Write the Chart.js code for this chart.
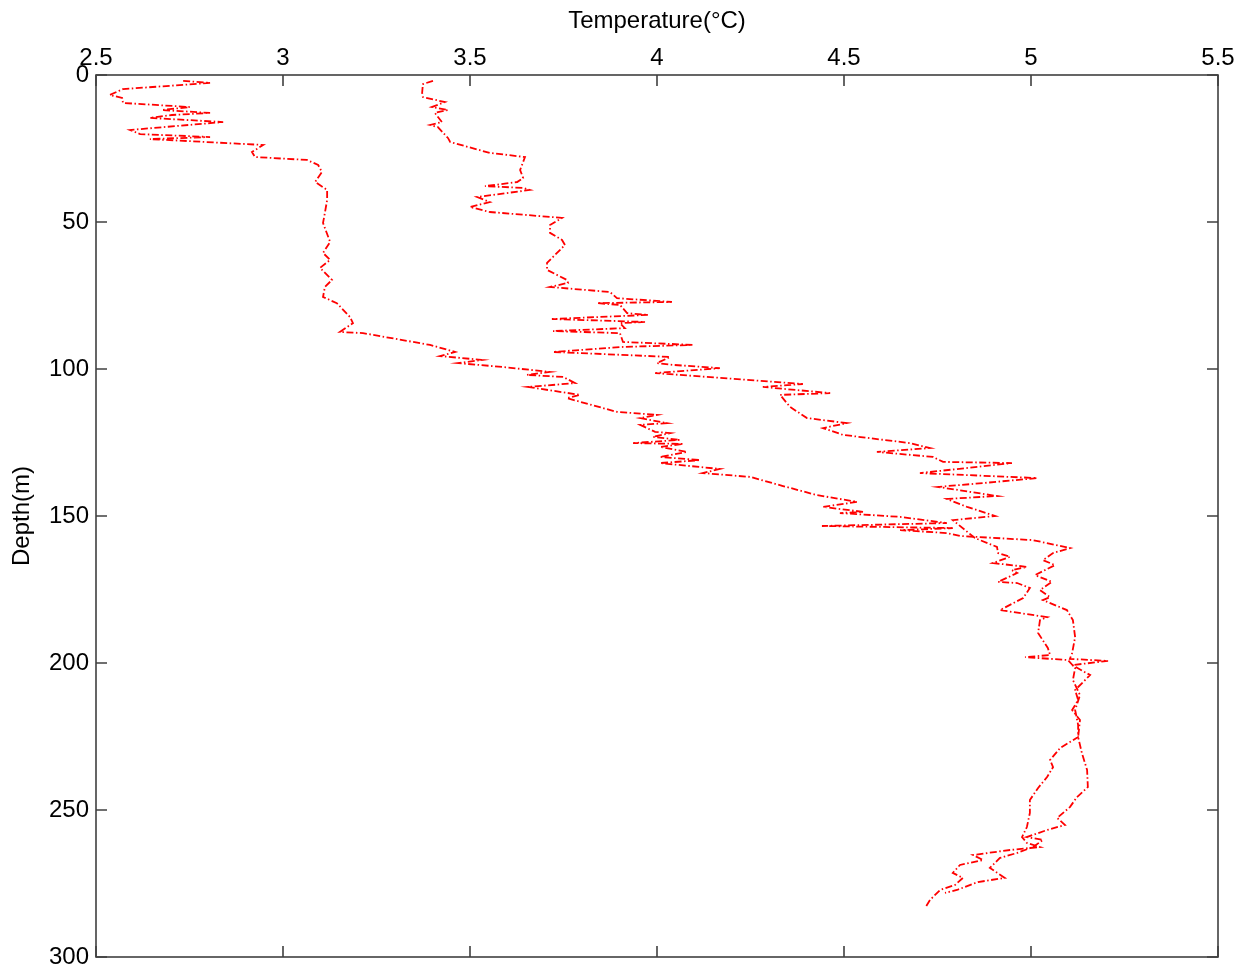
<!DOCTYPE html>
<html>
<head>
<meta charset="utf-8">
<script src="https://cdn.jsdelivr.net/npm/chart.js@4.4.1/dist/chart.umd.min.js"></script>
<style>
  html, body { margin: 0; padding: 0; background: #fff; }
  #wrap { width: 1244px; height: 972px; position: relative; }
</style>
</head>
<body>
<div id="wrap"><canvas id="profile"></canvas></div>
<script>
// tick values for both axes
const tempTicks = [2.5, 3, 3.5, 4, 4.5, 5, 5.5];
const depthTicks = [0, 50, 100, 150, 200, 250, 300];

// first cast (cooler near the surface)
const depthA = [2.0, 2.7, 4.8, 6.8, 7.8, 9.5, 10.9, 11.9, 12.9, 13.6, 14.6, 16.0, 18.7, 20.1, 21.1, 21.8,
  23.8, 26.2, 27.9, 28.9, 30.6, 33.0, 36.4, 39.1, 42.5, 46.9, 50.3, 56.8, 60.5, 62.9, 65.6, 69.7, 72.1,
  75.5, 77.6, 82.3, 84.4, 87.4, 87.8, 91.8, 94.2, 95.6, 96.9, 98.0, 99.3, 101.0, 102.0, 102.7, 104.8,
  106.1, 108.8, 109.9, 114.6, 115.6, 116.7, 118.4, 119.0, 121.4, 121.8, 123.1, 124.1, 125.2, 125.5,
  126.5, 128.2, 129.9, 131.0, 132.0, 134.0, 135.4, 136.7, 139.8, 142.9, 145.2, 146.9, 148.6, 149.0,
  150.3, 152.4, 153.4, 154.1, 154.8, 155.8, 156.8, 158.2, 160.9, 162.6, 165.0, 166.7, 170.1, 172.4,
  175.2, 177.6, 178.6, 182.0, 185.4, 191.2, 196.6, 198.6, 199.3, 200.7, 204.1, 209.2, 212.6, 216.0,
  219.4, 225.2, 230.6, 236.4, 242.2, 245.6, 249.0, 252.7, 255.1, 256.8, 259.2, 260.2, 262.6, 264.6,
  266.3, 269.7, 273.1, 274.5, 277.2, 278.2];
const tempA = [2.733, 2.805, 2.572, 2.537, 2.570, 2.572, 2.751, 2.676, 2.805, 2.703, 2.644, 2.840, 2.591,
  2.618, 2.805, 2.644, 2.947, 2.917, 2.925, 3.064, 3.094, 3.104, 3.086, 3.118, 3.118, 3.112, 3.107, 3.126,
  3.107, 3.126, 3.099, 3.131, 3.112, 3.107, 3.144, 3.179, 3.187, 3.152, 3.214, 3.393, 3.460, 3.420, 3.532,
  3.468, 3.586, 3.714, 3.652, 3.749, 3.781, 3.655, 3.794, 3.759, 3.893, 4.000, 3.955, 4.027, 3.955, 3.995,
  4.035, 3.989, 4.061, 3.936, 4.070, 4.008, 4.080, 4.008, 4.115, 4.008, 4.168, 4.123, 4.249, 4.337, 4.428,
  4.535, 4.444, 4.551, 4.489, 4.650, 4.775, 4.441, 4.791, 4.650, 4.775, 4.810, 5.005, 5.104, 5.059, 5.032,
  5.064, 5.011, 5.056, 5.024, 5.051, 5.032, 5.096, 5.112, 5.118, 5.110, 5.104, 5.206, 5.110, 5.158, 5.118,
  5.126, 5.110, 5.131, 5.126, 5.136, 5.150, 5.152, 5.123, 5.104, 5.070, 5.091, 5.043, 4.989, 5.032, 5.005,
  4.963, 4.917, 4.890, 4.930, 4.858, 4.802, 4.770];

// second cast (warmer near the surface)
const depthB = [2.0, 3.1, 6.1, 7.5, 9.2, 10.9, 11.9, 12.9, 16.0, 17.0, 17.7, 21.4, 22.8, 26.5, 27.9, 32.3,
  35.0, 36.4, 37.8, 38.4, 39.1, 41.5, 43.2, 44.9, 46.6, 48.6, 51.0, 53.7, 56.1, 57.8, 63.9, 66.3, 69.7,
  70.7, 72.1, 73.8, 75.9, 77.2, 77.6, 78.2, 81.0, 81.6, 83.0, 84.0, 84.4, 86.1, 87.1, 87.8, 90.8, 91.8,
  92.5, 94.2, 95.9, 98.0, 98.6, 99.7, 101.4, 103.7, 105.1, 106.1, 108.2, 108.8, 112.9, 116.7, 118.4,
  120.1, 122.4, 125.2, 126.9, 128.2, 129.9, 131.6, 132.0, 135.4, 137.1, 138.8, 140.1, 143.2, 144.2,
  146.9, 150.0, 151.4, 157.5, 160.5, 162.6, 163.9, 166.0, 167.3, 168.4, 169.4, 172.4, 172.8, 174.5,
  177.9, 182.0, 184.4, 185.4, 189.8, 194.9, 197.3, 198.0, 199.0, 201.7, 205.8, 210.9, 216.0, 221.1,
  225.2, 228.9, 233.0, 235.4, 238.8, 242.5, 246.6, 251.0, 255.8, 259.2, 261.2, 262.6, 263.6, 265.3,
  267.0, 268.7, 271.4, 273.1, 275.5, 277.2, 280.6, 283.3];
const tempB = [3.401, 3.374, 3.372, 3.374, 3.433, 3.398, 3.441, 3.406, 3.425, 3.393, 3.414, 3.441, 3.447,
  3.553, 3.647, 3.634, 3.642, 3.626, 3.540, 3.642, 3.660, 3.519, 3.553, 3.500, 3.553, 3.746, 3.714, 3.714,
  3.746, 3.754, 3.706, 3.706, 3.759, 3.762, 3.714, 3.874, 3.893, 4.040, 3.840, 3.901, 3.920, 3.976, 3.719,
  3.968, 3.901, 3.914, 3.722, 3.901, 3.909, 4.096, 3.909, 3.722, 4.035, 4.000, 4.043, 4.168, 3.995, 4.241,
  4.390, 4.283, 4.463, 4.329, 4.356, 4.401, 4.508, 4.444, 4.497, 4.676, 4.730, 4.588, 4.738, 4.765, 4.949,
  4.703, 5.016, 4.872, 4.751, 4.909, 4.775, 4.829, 4.904, 4.791, 4.850, 4.909, 4.912, 4.944, 4.898, 4.989,
  4.949, 4.963, 4.912, 4.963, 4.997, 4.979, 4.917, 5.043, 5.024, 5.019, 5.045, 5.051, 4.984, 5.099, 5.118,
  5.112, 5.131, 5.118, 5.126, 5.126, 5.078, 5.051, 5.059, 5.043, 5.019, 4.997, 4.997, 4.989, 4.976, 4.989,
  5.024, 4.944, 4.845, 4.872, 4.810, 4.791, 4.818, 4.797, 4.757, 4.730, 4.717];

function toPoints(temps, depths) {
  return temps.map((t, i) => ({ x: t, y: depths[i] }));
}

// box round the plot with short inward ticks on every side
const frame = {
  id: 'frame',
  afterDraw(chart) {
    const { ctx, chartArea: a, scales: { x, y } } = chart;
    const len = 11;
    ctx.save();
    ctx.strokeStyle = '#404040';
    ctx.lineWidth = 1.6;
    ctx.strokeRect(a.left, a.top, a.right - a.left, a.bottom - a.top);
    ctx.beginPath();
    x.ticks.forEach(t => {
      const px = x.getPixelForValue(t.value);
      ctx.moveTo(px, a.top); ctx.lineTo(px, a.top + len);
      ctx.moveTo(px, a.bottom); ctx.lineTo(px, a.bottom - len);
    });
    y.ticks.forEach(t => {
      const py = y.getPixelForValue(t.value);
      ctx.moveTo(a.left, py); ctx.lineTo(a.left + len, py);
      ctx.moveTo(a.right, py); ctx.lineTo(a.right - len, py);
    });
    ctx.stroke();
    ctx.restore();
  }
};

Chart.defaults.font.family = '"Liberation Sans", Arial, sans-serif';
Chart.defaults.color = '#000';

const lineStyle = {
  showLine: true,
  borderColor: '#ff0000',
  borderWidth: 1.8,
  borderDash: [7, 2.5, 1.5, 2.5],
  pointRadius: 0,
  tension: 0,
  fill: false
};

new Chart(document.getElementById('profile'), {
  type: 'scatter',
  data: {
    datasets: [
      { label: 'cast 1', data: toPoints(tempA, depthA), ...lineStyle },
      { label: 'cast 2', data: toPoints(tempB, depthB), ...lineStyle }
    ]
  },
  options: {
    responsive: true,
    maintainAspectRatio: false,
    animation: false,
    layout: { padding: { left: 0, top: 0, right: 26, bottom: 15 } },
    plugins: { legend: { display: false }, tooltip: { enabled: false } },
    scales: {
      x: {
        type: 'linear',
        position: 'top',
        min: 2.5,
        max: 5.5,
        afterBuildTicks: s => { s.ticks = tempTicks.map(v => ({ value: v })); },
        afterFit: s => { s.height = 75; s.paddingLeft = 0; s.paddingRight = 0; },
        grid: { display: false, drawTicks: false },
        border: { display: false },
        ticks: { font: { size: 24 }, padding: 2, maxRotation: 0, callback: v => String(v) },
        title: { display: true, text: 'Temperature(°C)', font: { size: 24 }, padding: { top: 7, bottom: 0 } }
      },
      y: {
        type: 'linear',
        reverse: true,
        min: 0,
        max: 300,
        afterBuildTicks: s => { s.ticks = depthTicks.map(v => ({ value: v })); },
        afterFit: s => { s.width = 96; s.paddingTop = 0; s.paddingBottom = 0; },
        grid: { display: false, drawTicks: false },
        border: { display: false },
        ticks: { font: { size: 24 }, padding: 7, callback: v => String(v) },
        title: { display: true, text: 'Depth(m)', font: { size: 24 }, padding: { top: 8, bottom: 0 } }
      }
    }
  },
  plugins: [frame]
});
</script>
</body>
</html>
